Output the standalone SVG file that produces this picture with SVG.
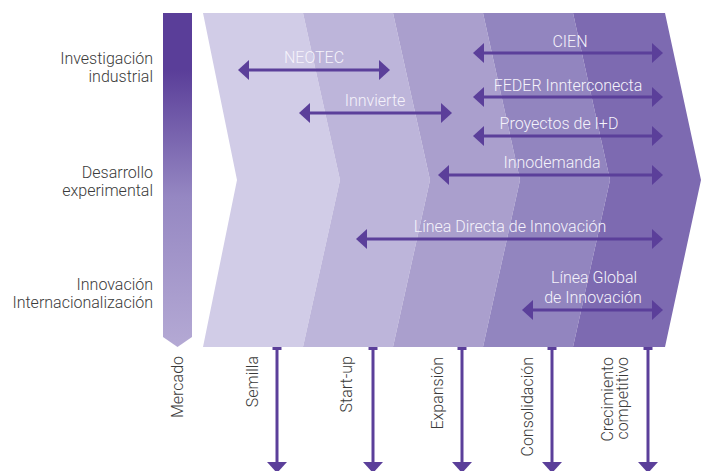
<svg xmlns="http://www.w3.org/2000/svg" width="705" height="471" viewBox="0 0 705 471">
<style>
.lbl{font-family:Roboto,"Liberation Sans",sans-serif;font-size:16px;font-weight:300;fill:#3a3a3a}
.in{font-family:Roboto,"Liberation Sans",sans-serif;font-size:16px;font-weight:300;fill:#F5F3FB;text-anchor:middle}
.ar{stroke:#5B3F9A;stroke-width:3;fill:none}
</style>
<defs>
<linearGradient id="gbar" x1="0" y1="13" x2="0" y2="347" gradientUnits="userSpaceOnUse">
<stop offset="0" stop-color="#5A3E99"/>
<stop offset="0.17" stop-color="#5A3E99"/>
<stop offset="0.55" stop-color="#9587C2"/>
<stop offset="1" stop-color="#B4A9D4"/>
</linearGradient>
<marker id="ah" markerUnits="userSpaceOnUse" markerWidth="12" markerHeight="20" viewBox="0 0 12 20" refX="1" refY="10" orient="auto-start-reverse">
<path d="M0,0 L11,10 L0,20 Z" fill="#5B3F9A"/>
</marker>
</defs>
<rect width="705" height="471" fill="#fff"/>
<g id="bar">
<polygon points="163,13 192,13 192,337 177.5,347 163,337" fill="url(#gbar)"/>
</g>
<g id="bands">
<polygon id="b1" points="203,13 303,13 340,180 303,347 203,347 237,180" fill="#D1CCE7"/>
<polygon id="b2" points="303,13 393,13 430,180 393,347 303,347 340,180" fill="#BDB5DA"/>
<polygon id="b3" points="393,13 483,13 520,180 483,347 393,347 430,180" fill="#AA9FCD"/>
<polygon id="b4" points="483,13 573,13 610,180 573,347 483,347 520,180" fill="#9285BF"/>
<polygon id="b5" points="573,13 665,13 701,180 665,347 573,347 610,180" fill="#7D6AB1"/>
</g>
<g id="left-labels" class="lbl" text-anchor="end">
<text x="153" y="64">Investigación</text>
<text x="153" y="82">industrial</text>
<text x="153" y="178">Desarrollo</text>
<text x="153" y="196">experimental</text>
<text x="153" y="290">Innovación</text>
<text x="153" y="308">Internacionalización</text>
</g>
<g id="connectors">
<line class="ar" x1="248" y1="70" x2="380" y2="70" marker-start="url(#ah)" marker-end="url(#ah)"/>
<line class="ar" x1="309" y1="113" x2="442" y2="113" marker-start="url(#ah)" marker-end="url(#ah)"/>
<line class="ar" x1="483" y1="53" x2="653" y2="53" marker-start="url(#ah)" marker-end="url(#ah)"/>
<line class="ar" x1="483" y1="97" x2="653" y2="97" marker-start="url(#ah)" marker-end="url(#ah)"/>
<line class="ar" x1="483" y1="136" x2="653" y2="136" marker-start="url(#ah)" marker-end="url(#ah)"/>
<line class="ar" x1="448" y1="175" x2="653" y2="175" marker-start="url(#ah)" marker-end="url(#ah)"/>
<line class="ar" x1="366" y1="239" x2="653" y2="239" marker-start="url(#ah)" marker-end="url(#ah)"/>
<line class="ar" x1="532" y1="310" x2="653" y2="310" marker-start="url(#ah)" marker-end="url(#ah)"/>
<g id="stage-arrows">
<line class="ar" x1="277" y1="348" x2="277" y2="463" marker-end="url(#ah)"/>
<line class="ar" x1="272.5" y1="348.5" x2="281.5" y2="348.5"/>
<line class="ar" x1="373" y1="348" x2="373" y2="463" marker-end="url(#ah)"/>
<line class="ar" x1="368.5" y1="348.5" x2="377.5" y2="348.5"/>
<line class="ar" x1="462" y1="348" x2="462" y2="463" marker-end="url(#ah)"/>
<line class="ar" x1="457.5" y1="348.5" x2="466.5" y2="348.5"/>
<line class="ar" x1="552" y1="348" x2="552" y2="463" marker-end="url(#ah)"/>
<line class="ar" x1="547.5" y1="348.5" x2="556.5" y2="348.5"/>
<line class="ar" x1="648" y1="348" x2="648" y2="463" marker-end="url(#ah)"/>
<line class="ar" x1="643.5" y1="348.5" x2="652.5" y2="348.5"/>
</g>
</g>
<g id="programs">
<text class="in" x="314" y="63">NEOTEC</text>
<text class="in" x="375" y="106">Innvierte</text>
<text class="in" x="570" y="47">CIEN</text>
<text class="in" x="568" y="91">FEDER Innterconecta</text>
<text class="in" x="559" y="129">Proyectos de I+D</text>
<text class="in" x="552" y="168">Innodemanda</text>
<text class="in" x="510" y="232">Línea Directa de Innovación</text>
<text class="in" x="594" y="283">Línea Global</text>
<text class="in" x="593" y="303">de Innovación</text>
</g>
<g id="stages" class="lbl" text-anchor="end">
<text transform="translate(183,356) rotate(-90)">Mercado</text>
<text transform="translate(258,356) rotate(-90)">Semilla</text>
<text transform="translate(352,356) rotate(-90)">Start-up</text>
<text transform="translate(443,357) rotate(-90)">Expansión</text>
<text transform="translate(533,357) rotate(-90)">Consolidación</text>
<text transform="translate(613,357) rotate(-90)">Crecimiento<tspan x="0" dy="15">competitivo</tspan></text>
</g>
</svg>
